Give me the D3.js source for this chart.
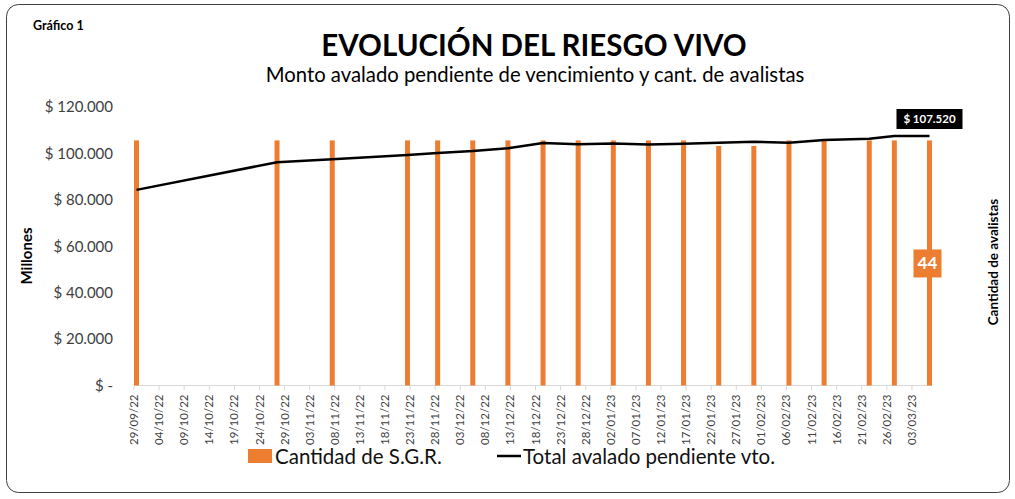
<html>
<head>
  <style>
    body { margin: 0; background: white; }
    svg text { font-family: Lato, 'Open Sans', sans-serif; }
    .tick-x { font-size: 11.5px; fill: #404040; }
    .tick-y { font-size: 15px; fill: #404040; }
  </style>
</head>
<body>
  <div id="chart"></div>
  <script src="https://d3js.org/d3.v7.min.js"></script>
  <script>

  // fechas de los datos (dd/mm/yy)
  const fechas = ["29/09/22","27/10/22","07/11/22","22/11/22","28/11/22","05/12/22","12/12/22",
    "19/12/22","26/12/22","02/01/23","09/01/23","16/01/23","23/01/23","30/01/23",
    "06/02/23","13/02/23","22/02/23","27/02/23","06/03/23"];
  // Cantidad de S.G.R. (eje secundario)
  const cantidadSGR = [44,44,44,44,44,44,44,44,44,44,44,44,43,43,44,44,44,44,44];
  // Total avalado pendiente vto. (millones)
  const totalAvalado = [84300,96200,97500,99300,100200,101000,102200,104500,104000,104300,
    103800,104200,104600,105000,104600,105800,106300,107500,107520];
  // etiquetas del eje x (cada 5 dias)
  const ticksX = ["29/09/22","04/10/22","09/10/22","14/10/22","19/10/22","24/10/22","29/10/22",
    "03/11/22","08/11/22","13/11/22","18/11/22","23/11/22","28/11/22","03/12/22","08/12/22",
    "13/12/22","18/12/22","23/12/22","28/12/22","02/01/23","07/01/23","12/01/23","17/01/23",
    "22/01/23","27/01/23","01/02/23","06/02/23","11/02/23","16/02/23","21/02/23","26/02/23","03/03/23"];
  const ticksY = [0,20000,40000,60000,80000,100000,120000];

  const W = 1015, H = 499;
  const plot = {left: 134, right: 932, top: 107, bottom: 385.5};
  const parse = d3.utcParse("%d/%m/%y");
  const loc = d3.formatLocale({decimal: ",", thousands: ".", grouping: [3], currency: ["$ ", ""]});
  const fmt = loc.format(",");

  const svg = d3.select("#chart").append("svg")
    .attr("width", W).attr("height", H);

  svg.append("rect")
    .attr("x", 6.5).attr("y", 4.5).attr("width", 1003).attr("height", 488)
    .attr("rx", 12).attr("fill", "white").attr("stroke", "#404040").attr("stroke-width", 1);

  const x0 = parse(fechas[0]);
  const x = d3.scaleUtc()
    .domain([x0, d3.utcDay.offset(parse(fechas[fechas.length - 1]), 1)])
    .range([plot.left, plot.right]);
  const y = d3.scaleLinear().domain([0, 120000]).range([plot.bottom, plot.top]);
  const y2 = d3.scaleLinear().domain([0, 50]).range([plot.bottom, plot.top]);
  const mid = s => d3.utcHour.offset(parse(s), 12);

  // eje y izquierdo
  svg.append("g").selectAll("text")
    .data(ticksY)
    .join("text")
      .attr("class", "tick-y")
      .attr("x", 113)
      .attr("y", d => y(d))
      .attr("dy", "0.35em")
      .attr("text-anchor", "end")
      .text(d => d === 0 ? "$ -" : "$ " + fmt(d));

  // eje x
  const gx = svg.append("g");
  gx.append("line")
    .attr("x1", plot.left).attr("x2", plot.right)
    .attr("y1", plot.bottom).attr("y2", plot.bottom)
    .attr("stroke", "#d9d9d9");
  gx.selectAll("line.t")
    .data(ticksX)
    .join("line")
      .attr("class", "t")
      .attr("x1", d => x(parse(d))).attr("x2", d => x(parse(d)))
      .attr("y1", plot.bottom).attr("y2", plot.bottom + 5)
      .attr("stroke", "#d9d9d9");
  gx.selectAll("text")
    .data(ticksX)
    .join("text")
      .attr("class", "tick-x")
      .attr("transform", d => `translate(${x(parse(d))},${plot.bottom + 9}) rotate(-90)`)
      .attr("dy", "0.35em")
      .attr("text-anchor", "end")
      .text(d => d);

  // barras
  svg.append("g").selectAll("rect")
    .data(fechas)
    .join("rect")
      .attr("x", d => x(mid(d)) - 2.5)
      .attr("width", 5)
      .attr("y", (d, i) => y2(cantidadSGR[i]))
      .attr("height", (d, i) => plot.bottom - y2(cantidadSGR[i]))
      .attr("fill", "#ed7d31");

  // linea
  const linea = d3.line()
    .x(d => x(mid(d)))
    .y((d, i) => y(totalAvalado[i]));
  svg.append("path")
    .datum(fechas)
    .attr("d", linea)
    .attr("fill", "none")
    .attr("stroke", "black")
    .attr("stroke-width", 2.5)
    .attr("stroke-linejoin", "round");

  // etiquetas de datos
  const last = fechas.length - 1;
  const lx = x(mid(fechas[last]));
  svg.append("rect")
    .attr("x", lx - 33).attr("y", 109).attr("width", 66).attr("height", 20)
    .attr("fill", "black");
  svg.append("text")
    .attr("x", lx).attr("y", 119).attr("dy", "0.35em")
    .attr("text-anchor", "middle").attr("fill", "white")
    .attr("font-size", 11.5).attr("font-weight", "bold")
    .text("$ " + fmt(totalAvalado[last]));

  const by = (y2(cantidadSGR[last]) + plot.bottom) / 2;
  svg.append("rect")
    .attr("x", lx - 16).attr("y", by - 13.5).attr("width", 28).attr("height", 28)
    .attr("fill", "#ed7d31");
  svg.append("text")
    .attr("x", lx - 2).attr("y", by + 0.5).attr("dy", "0.35em")
    .attr("text-anchor", "middle").attr("fill", "white")
    .attr("font-size", 17).attr("font-weight", "bold")
    .text(cantidadSGR[last]);

  // titulos
  svg.append("text")
    .attr("x", 33).attr("y", 30)
    .attr("font-size", 12.5).attr("font-weight", "bold")
    .text("Gráfico 1");
  svg.append("text")
    .attr("x", 534).attr("y", 56)
    .attr("text-anchor", "middle")
    .attr("font-size", 29.5).attr("font-weight", "bold")
    .text("EVOLUCIÓN DEL RIESGO VIVO");
  svg.append("text")
    .attr("x", 535).attr("y", 82)
    .attr("text-anchor", "middle")
    .attr("font-size", 20.3)
    .text("Monto avalado pendiente de vencimiento y cant. de avalistas");

  svg.append("text")
    .attr("transform", "translate(27,256) rotate(-90)")
    .attr("dy", "0.35em")
    .attr("text-anchor", "middle")
    .attr("font-size", 15).attr("font-weight", "bold")
    .text("Millones");
  svg.append("text")
    .attr("transform", "translate(993,262) rotate(-90)")
    .attr("dy", "0.35em")
    .attr("text-anchor", "middle")
    .attr("font-size", 13.5).attr("font-weight", "bold")
    .text("Cantidad de avalistas");

  // leyenda
  const lg = svg.append("g");
  lg.append("rect").attr("x", 248).attr("y", 449).attr("width", 24).attr("height", 14).attr("fill", "#ed7d31");
  lg.append("text").attr("x", 275).attr("y", 464).attr("font-size", 20.5).attr("fill", "#111").text("Cantidad de S.G.R.");
  lg.append("line").attr("x1", 497).attr("x2", 521).attr("y1", 456).attr("y2", 456).attr("stroke", "black").attr("stroke-width", 2.5);
  lg.append("text").attr("x", 523).attr("y", 464).attr("font-size", 20.5).attr("fill", "#111").text("Total avalado pendiente vto.");

  </script>
</body>
</html>
